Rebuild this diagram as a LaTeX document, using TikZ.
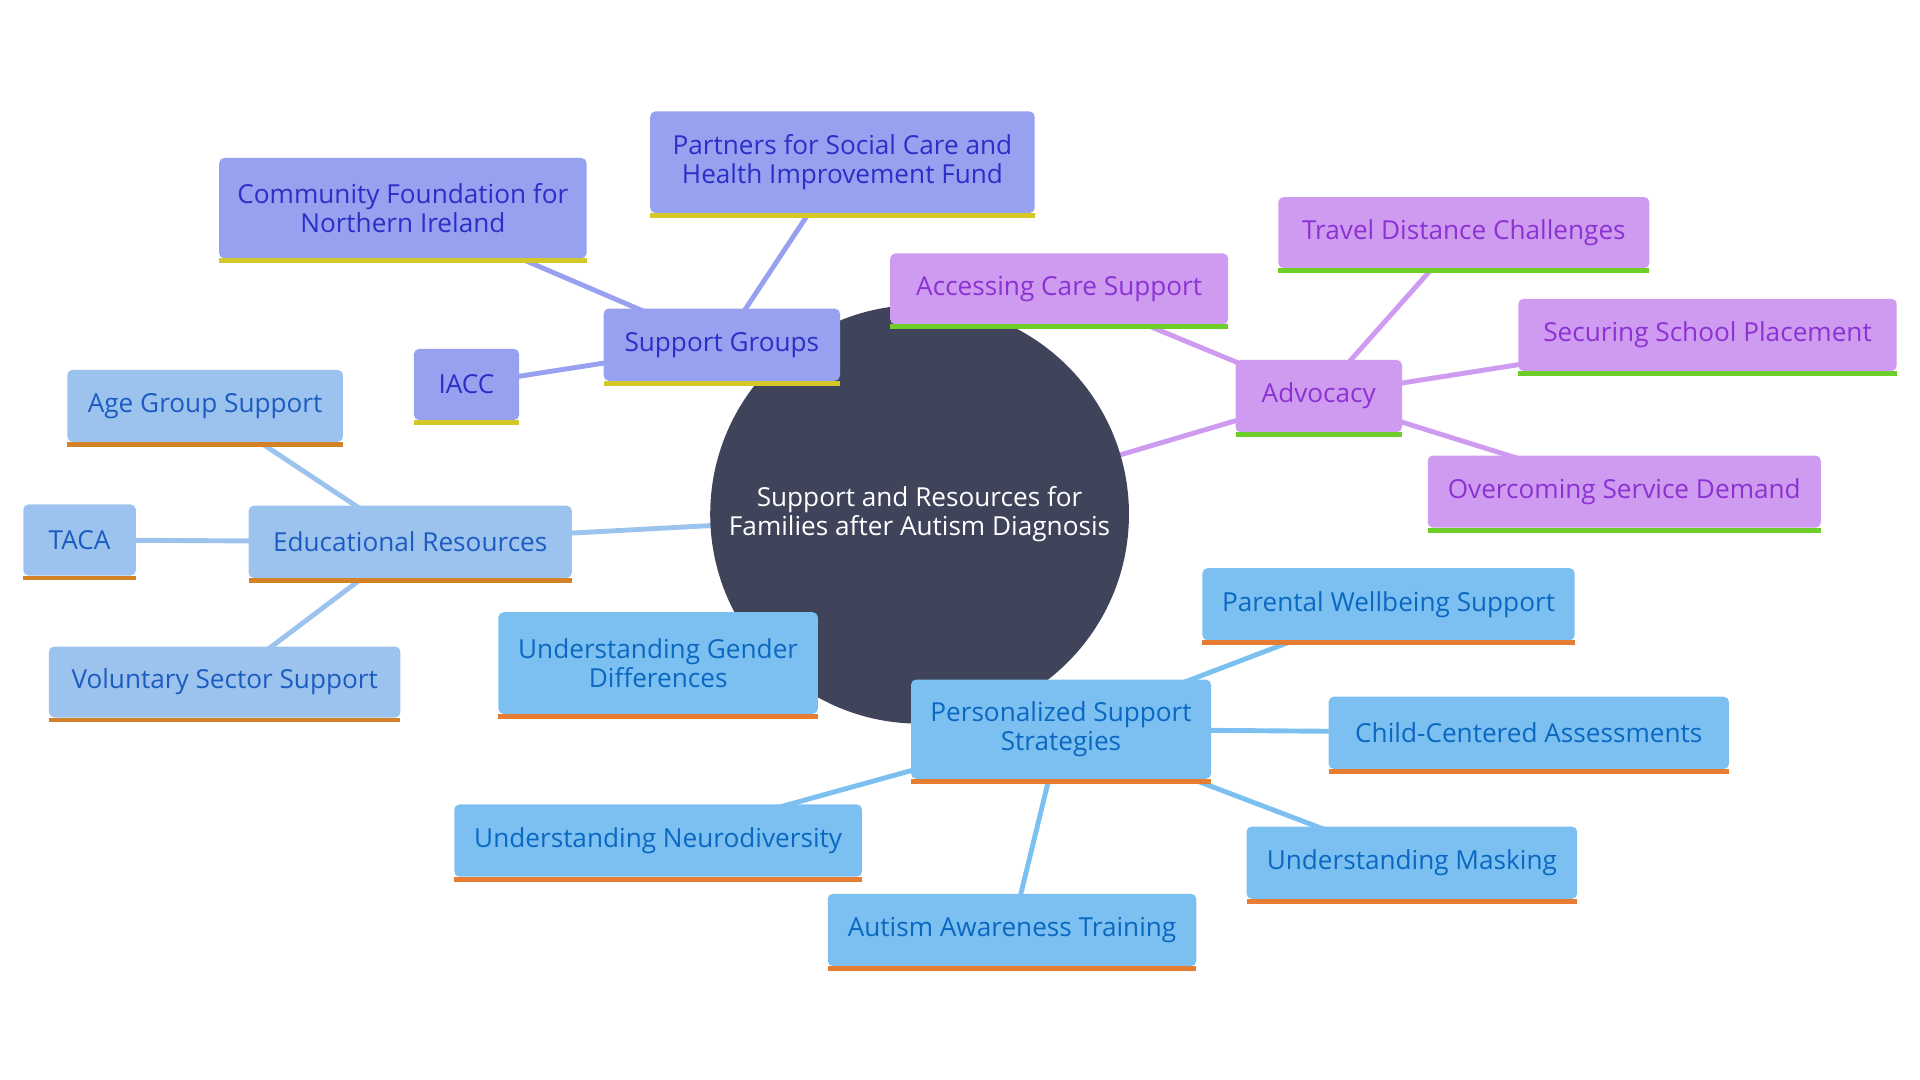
\documentclass[tikz,border=0pt]{standalone}
\usepackage{fontspec}
\setmainfont{Open Sans}
\usetikzlibrary{fit,backgrounds}
\definecolor{ctr}{RGB}{64,68,90}
\definecolor{sgfill}{RGB}{152,160,240}
\definecolor{sgtext}{RGB}{44,46,198}
\definecolor{sgbarc}{RGB}{212,200,40}
\definecolor{advfill}{RGB}{206,155,240}
\definecolor{advtext}{RGB}{140,50,210}
\definecolor{advbarc}{RGB}{110,205,40}
\definecolor{edufill}{RGB}{156,195,238}
\definecolor{edutext}{RGB}{28,92,192}
\definecolor{edubarc}{RGB}{212,130,42}
\definecolor{persfill}{RGB}{124,192,242}
\definecolor{perstext}{RGB}{10,104,192}
\definecolor{persbarc}{RGB}{230,125,50}
\tikzset{
  box/.style={rectangle, inner sep=0pt, rounded corners=1.5pt},
  boxtext/.style={inner sep=0pt, align=center, font=\fontsize{7.6}{8.5}\selectfont},
  sg/.style={fill=sgfill},
  sgtxt/.style={text=sgtext},
  sgbar/.style={fill=sgbarc},
  sgline/.style={draw=sgfill, line width=0.05cm},
  adv/.style={fill=advfill},
  advtxt/.style={text=advtext},
  advbar/.style={fill=advbarc},
  advline/.style={draw=advfill, line width=0.05cm},
  edu/.style={fill=edufill},
  edutxt/.style={text=edutext},
  edubar/.style={fill=edubarc},
  eduline/.style={draw=edufill, line width=0.05cm},
  pers/.style={fill=persfill},
  perstxt/.style={text=perstext},
  persbar/.style={fill=persbarc},
  persline/.style={draw=persfill, line width=0.05cm},
}
\newcommand{\bx}[7]{%
  \node[box, #2, fit={(#3,#4) (#5,{#6-4})}] (#1) {};
  \fill[#2bar] (#3,{#6-4}) rectangle (#5,#6);
  \node[boxtext, #2txt] (#1t) at (#1.center) {#7};
}
\begin{document}
\begin{tikzpicture}[x=0.0125cm,y=-0.0125cm]
\useasboundingbox (0,0) rectangle (1568,882);
\node[circle, fill=ctr, minimum size=0.0125cm*342, inner sep=0pt, text=white, align=center,
  font=\fontsize{7.6}{8.5}\selectfont] (root) at (751,420) {Support and Resources for\\Families after Autism Diagnosis};
% Support groups
\bx{sg}{sg}{493}{252}{686}{315}{Support Groups}
\bx{partners}{sg}{531}{91}{845}{178}{Partners for Social Care and\\Health Improvement Fund}
\bx{cfni}{sg}{179}{129}{479}{215}{Community Foundation for\\Northern Ireland}
\bx{iacc}{sg}{338}{285}{424}{347}{IACC}
% Advocacy
\bx{adv}{adv}{1009}{294}{1145}{357}{Advocacy}
\bx{acc}{adv}{727}{207}{1003}{269}{Accessing Care Support}
\bx{travel}{adv}{1044}{161}{1347}{223}{Travel Distance Challenges}
\bx{school}{adv}{1240}{244}{1549}{307}{Securing School Placement}
\bx{demand}{adv}{1166}{372}{1487}{435}{Overcoming Service Demand}
% Educational
\bx{edu}{edu}{203}{413}{467}{476}{Educational Resources}
\bx{age}{edu}{55}{302}{280}{365}{Age Group Support}
\bx{taca}{edu}{19}{412}{111}{474}{TACA}
\bx{vol}{edu}{40}{528}{327}{590}{Voluntary Sector Support}
% Personalized
\bx{pers}{pers}{744}{555}{989}{640}{Personalized Support\\Strategies}
\bx{gender}{pers}{407}{500}{668}{587}{Understanding Gender\\Differences}
\bx{parent}{pers}{982}{464}{1286}{527}{Parental Wellbeing Support}
\bx{child}{pers}{1085}{569}{1412}{632}{Child-Centered Assessments}
\bx{mask}{pers}{1018}{675}{1288}{738}{Understanding Masking}
\bx{aware}{pers}{676}{730}{977}{793}{Autism Awareness Training}
\bx{neuro}{pers}{371}{657}{704}{720}{Understanding Neurodiversity}
\begin{pgfonlayer}{background}
\draw[sgline] (root.center) -- (sg.center);
\draw[sgline] (sg.center) -- (partners.center);
\draw[sgline] (sg.center) -- (cfni.center);
\draw[sgline] (sg.center) -- (iacc.center);
\draw[advline] (root.center) -- (adv.center);
\draw[advline] (adv.center) -- (acc.center);
\draw[advline] (adv.center) -- (travel.center);
\draw[advline] (adv.center) -- (school.center);
\draw[advline] (adv.center) -- (demand.center);
\draw[eduline] (root.center) -- (edu.center);
\draw[eduline] (edu.center) -- (age.center);
\draw[eduline] (edu.center) -- (taca.center);
\draw[eduline] (edu.center) -- (vol.center);
\draw[persline] (root.center) -- (pers.center);
\draw[persline] (pers.center) -- (gender.center);
\draw[persline] (pers.center) -- (parent.center);
\draw[persline] (pers.center) -- (child.center);
\draw[persline] (pers.center) -- (mask.center);
\draw[persline] (pers.center) -- (aware.center);
\draw[persline] (pers.center) -- (neuro.center);
\end{pgfonlayer}
\end{tikzpicture}
\end{document}
